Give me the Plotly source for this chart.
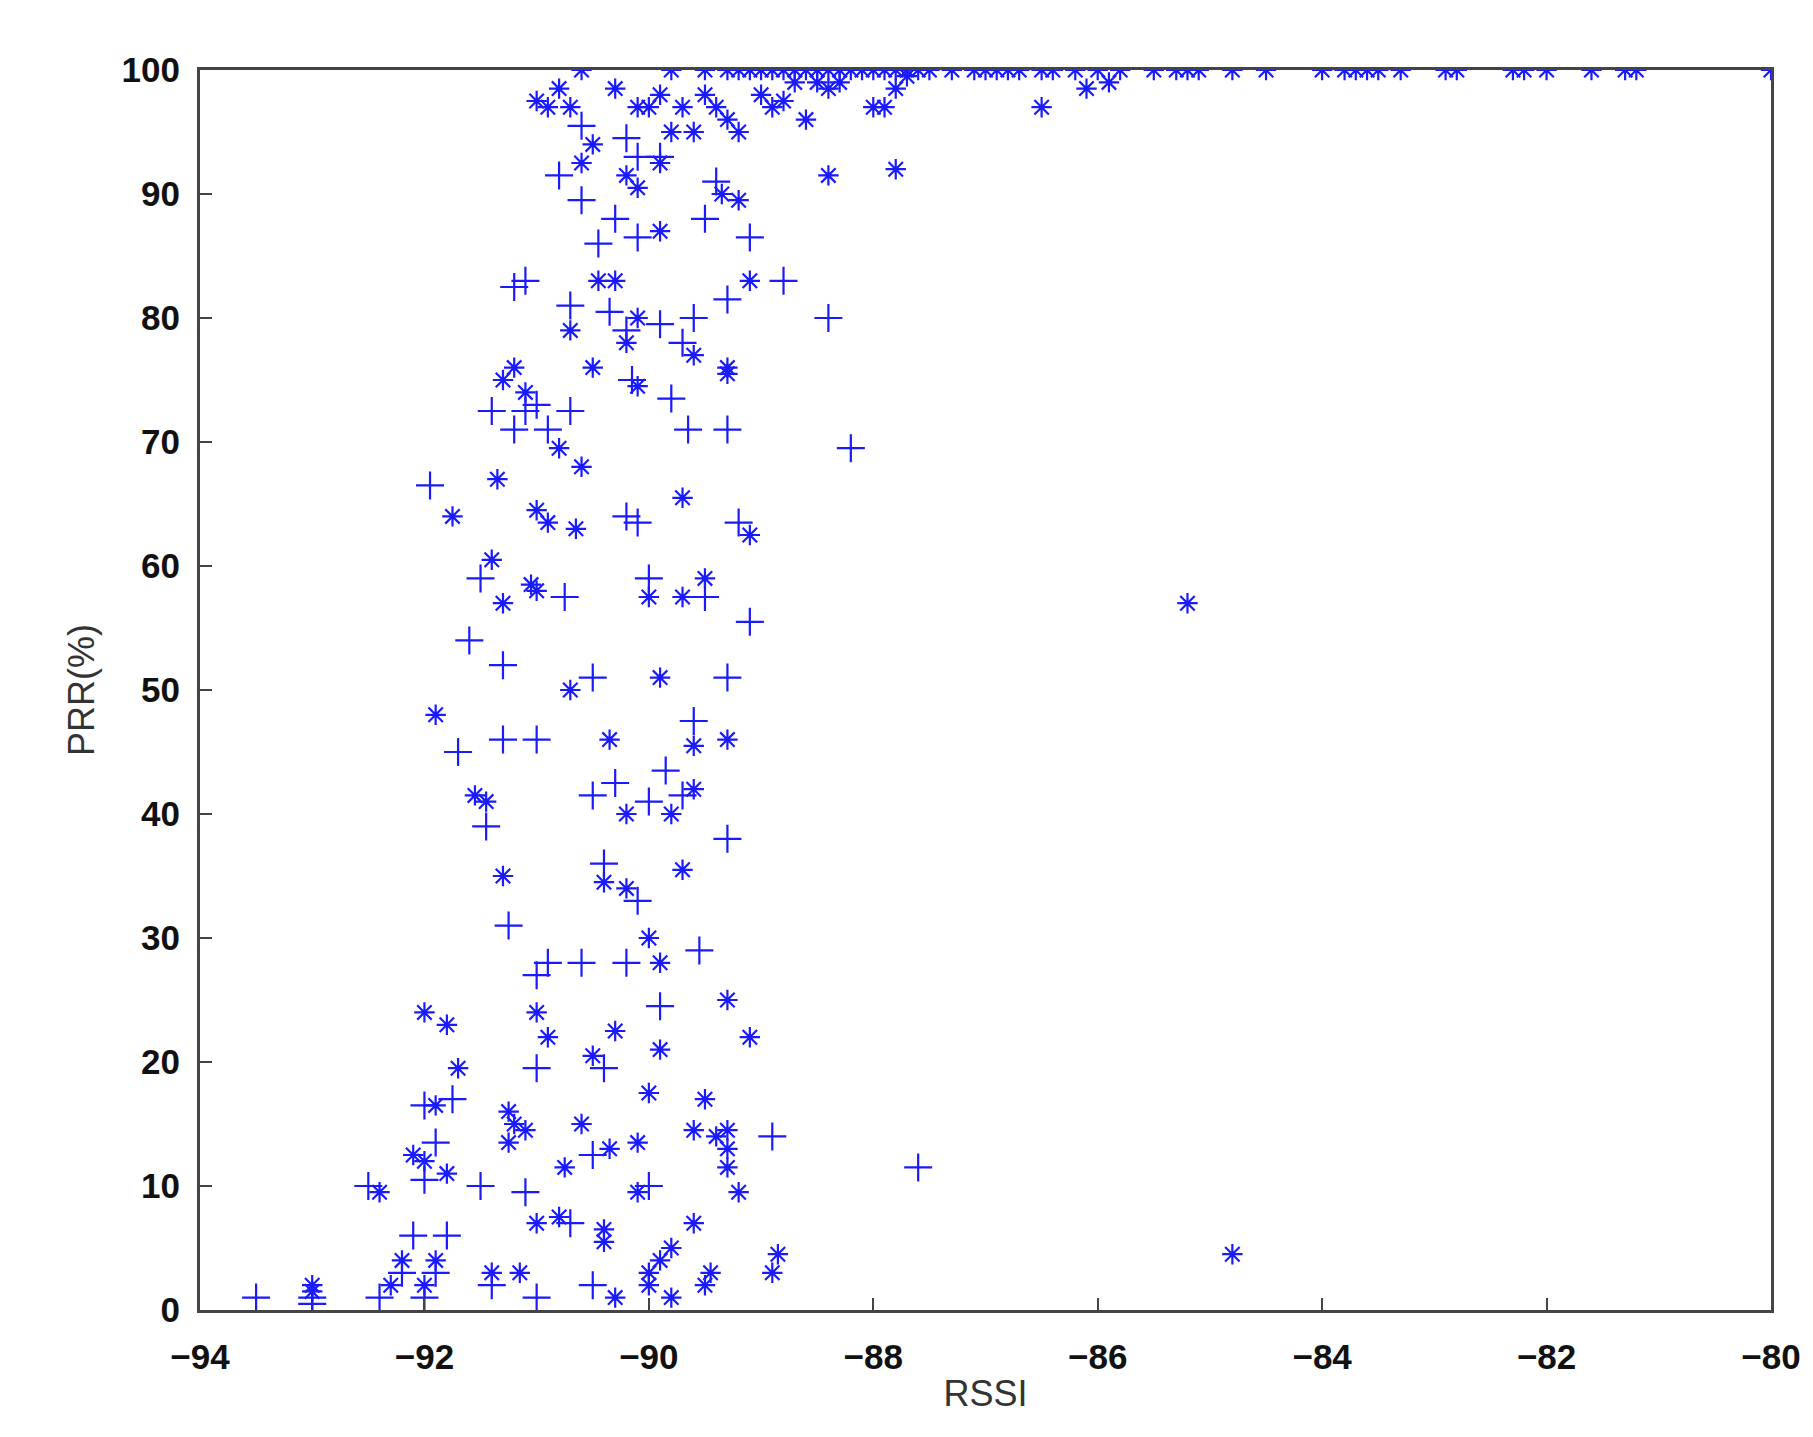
import plotly.graph_objects as go

rssi_plus = [-93.5, -93.0, -93.0, -92.5, -92.4, -92.2, -92.1, -92.0, -92.0, -91.95, -91.9, -91.9, -92.0,
             -91.8, -91.75, -91.7, -91.6, -91.5, -91.45, -91.5, -91.4, -91.4, -91.3, -91.3, -91.25, -91.2,
             -91.2, -91.1, -91.1, -91.1, -91.0, -91.0, -91.0, -91.0, -91.0, -90.9, -90.9, -90.8, -90.75,
             -90.7, -90.7, -90.7, -90.6, -90.6, -90.6, -90.5, -90.5, -90.5, -90.5, -90.45, -90.4, -90.4,
             -90.35, -90.3, -90.3, -90.2, -90.2, -90.2, -90.2, -90.15, -90.1, -90.1, -90.1, -90.1, -90.0,
             -90.0, -90.0, -89.9, -89.9, -89.9, -89.85, -89.8, -89.7, -89.65, -89.7, -89.6, -89.6, -89.55,
             -89.5, -89.5, -89.4, -89.3, -89.3, -89.3, -89.3, -89.2, -89.1, -89.1, -88.9,
             -88.4, -88.8, -88.2, -87.6]
prr_plus = [1, 1, 0.5, 10, 1, 3, 6, 10.5, 16.5, 66.5, 13.5, 3, 1,
            6, 17, 45, 54, 59, 39, 10, 2, 72.5, 52, 46, 31, 82.5,
            71, 83, 72.5, 9.5, 73, 46, 27, 19.5, 1, 71, 28, 91.5, 57.5,
            81, 72.5, 7, 95.5, 89.5, 28, 51, 41.5, 12.5, 2, 86, 36, 19.5,
            80.5, 88, 42.5, 94.5, 79, 64, 28, 75, 93, 86.5, 63.5, 33, 59,
            41, 10, 93, 79.5, 24.5, 43.5, 73.5, 78, 71, 41.5, 80, 47.5, 29,
            88, 57.5, 91, 81.5, 71, 51, 38, 63.5, 86.5, 55.5, 14,
            80, 83, 69.5, 11.5]

rssi_star = [-93.0, -93.0, -92.4, -92.3, -92.2, -92.1, -92.0, -91.9, -92.0, -91.9,
             -91.9, -92.0, -91.8, -91.8, -91.7, -91.75, -91.55, -91.45, -91.4, -91.4,
             -91.35, -91.3, -91.3, -91.3, -91.25, -91.25, -91.2, -91.2, -91.1, -91.1,
             -91.15, -91.05, -91.0, -91.0, -91.0, -91.0, -90.9, -90.9, -90.8, -90.8,
             -90.75, -90.7, -90.7, -90.65, -90.6, -90.6, -90.6, -90.5, -90.5, -90.5,
             -90.45, -90.4, -90.4, -90.4, -90.35, -90.35, -90.3, -90.3, -90.3, -90.2,
             -90.2, -90.2, -90.2, -90.1, -90.1, -90.1, -90.1, -90.1, -90.0, -90.0,
             -90.0, -90.0, -90.0, -89.9, -89.9, -89.9, -89.9, -89.9, -89.9, -89.8, -89.8, -89.8,
             -89.7, -89.7, -89.7, -89.6, -89.6, -89.6, -89.6, -89.6, -89.5, -89.5,
             -89.5, -89.45, -89.4, -89.35, -89.3, -89.3, -89.3, -89.3, -89.3, -89.2,
             -89.3, -89.3, -89.2, -89.1, -89.1, -89.1, -88.9, -88.85, -87.8, -88.4, -85.2, -84.8]
prr_star = [2, 1.5, 9.5, 2, 4, 12.5, 12, 16.5, 24, 48,
            4, 2, 11, 23, 19.5, 64, 41.5, 41, 3, 60.5,
            67, 75, 57, 35, 13.5, 16, 76, 15, 14.5, 74,
            3, 58.5, 58, 64.5, 24, 7, 63.5, 22, 69.5, 7.5,
            11.5, 79, 50, 63, 92.5, 68, 15, 94, 76, 20.5,
            83, 34.5, 6.5, 5.5, 46, 13, 83, 22.5, 1, 91.5,
            78, 40, 34, 13.5, 9.5, 90.5, 80, 74.5, 57.5, 30,
            17.5, 2, 3, 92.5, 87, 51, 28, 21, 4, 40, 5, 1,
            65.5, 57.5, 35.5, 45.5, 77, 42, 14.5, 7, 59, 17,
            2, 3, 14, 90, 76, 75.5, 46, 25, 13, 89.5,
            14.5, 11.5, 9.5, 83, 62.5, 22, 3, 4.5, 92, 91.5, 57, 4.5]

rssi_top = [-89.8, -89.5, -89.3, -89.2, -89.1, -89.0, -88.9, -88.8, -88.7, -88.6, -88.5, -88.4, -88.3,
            -88.2, -88.1, -88.0, -87.9, -87.8, -87.7, -87.6, -87.5, -87.3, -87.1, -87.0, -86.9, -86.8,
            -86.7, -86.5, -86.4, -86.2, -86.0, -85.8, -85.5, -85.3, -85.2, -85.1, -84.8, -84.5, -84.0,
            -83.8, -83.7, -83.6, -83.5, -83.3, -82.9, -82.8, -82.3, -82.2, -82.0, -81.6, -81.3, -81.2,
            -80.0, -90.6,
            -90.8, -90.7, -90.3, -90.0, -89.9, -89.7, -89.5, -89.4, -89.3, -89.2, -89.0, -88.9, -88.8,
            -88.6, -88.4, -88.3, -88.0, -87.9, -87.8, -86.5, -86.1, -85.9, -89.6, -89.8, -90.1, -88.7,
            -88.5, -87.7, -90.9, -91.0]
prr_top = [100] * 54 + [98.5, 97, 98.5, 97, 98, 97, 98, 97, 96, 95, 98, 97, 97.5,
                        96, 98.5, 99, 97, 97, 98.5, 97, 98.5, 99, 95, 95, 97, 99,
                        99, 99.5, 97, 97.5]

marker_color = "#1a1aff"

fig = go.Figure()
fig.add_trace(go.Scatter(x=rssi_plus, y=prr_plus, mode="markers",
                         marker=dict(symbol="cross-thin-open", size=20, color=marker_color,
                                     line=dict(color=marker_color, width=2.2))))
for xs, ys in [(rssi_star, prr_star), (rssi_top, prr_top)]:
    fig.add_trace(go.Scatter(x=xs, y=ys, mode="markers",
                             marker=dict(symbol="asterisk-open", size=17, color=marker_color,
                                         line=dict(color=marker_color, width=2.2))))

tick_font = dict(family="Liberation Sans", size=35, color="#111", weight="bold")
axis_common = dict(showline=True, linecolor="#444", linewidth=3, mirror=True,
                   ticks="inside", ticklen=12, tickwidth=2, tickcolor="#444",
                   showgrid=False, zeroline=False, tickfont=tick_font)

fig.update_layout(
    width=1813, height=1437,
    paper_bgcolor="white", plot_bgcolor="white",
    showlegend=False,
    margin=dict(l=192, r=50, t=62, b=135),
    xaxis=dict(range=[-94, -80], dtick=2, ticklabelstandoff=14,
               title=dict(text="RSSI", standoff=6,
                          font=dict(family="Liberation Sans", size=36, color="#333")),
               **axis_common),
    yaxis=dict(range=[0, 100], dtick=10, ticklabelstandoff=10,
               title=dict(text="PRR(%)", standoff=16,
                          font=dict(family="Liberation Sans", size=36, color="#333")),
               **axis_common),
)

fig.write_html("out.html")
